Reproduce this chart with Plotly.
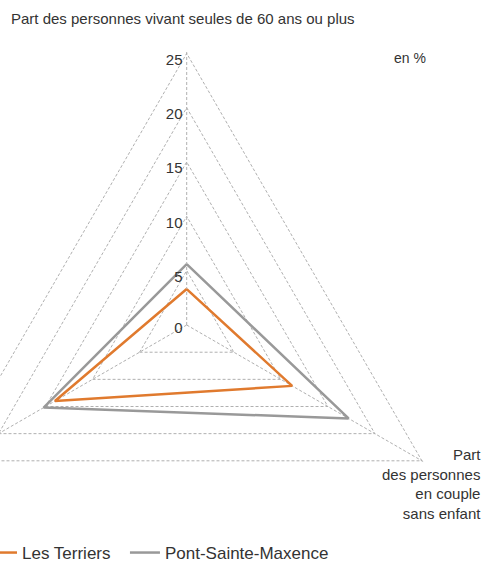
import plotly.graph_objects as go

categories = [
    "Part des personnes vivant seules de 60 ans ou plus",
    "Part des personnes en couple sans enfant",
    "Part des familles monoparentales",
]
les_terriers = [3.3, 11.2, 14.0]
pont_sainte_maxence = [5.6, 17.2, 15.2]
radial_ticks = [0, 5, 10, 15, 20, 25]

W, H = 600, 620
SHIFT = 90  # page offset of the figure (left side of chart is cropped in the reference)

ORANGE = "#E07A2E"
GREY = "#999999"
FONT = "Liberation Sans, Arial, sans-serif"
RMIN, RMAX = -0.01, 25.3
PX_PER_UNIT = 271.5 / 25
POLE_NUDGE = 0.3  # Plotly hides text sitting exactly on the pole; nudge the "0" label slightly


def closed(v):
    return list(v) + [v[0]]


fig = go.Figure()
fig.add_trace(go.Scatterpolar(
    r=closed(les_terriers), theta=closed(categories), mode="lines",
    name="Les Terriers\u00a0\u00a0", line=dict(color=ORANGE, width=2.5),
))
fig.add_trace(go.Scatterpolar(
    r=closed(pont_sainte_maxence), theta=closed(categories), mode="lines",
    name="Pont-Sainte-Maxence", line=dict(color=GREY, width=2.5),
))
# radial tick labels, placed along the top axis just below-left of each grid vertex
label_ticks = list(reversed(radial_ticks))
fig.add_trace(go.Scatterpolar(
    r=[max(t, POLE_NUDGE) for t in label_ticks], theta=[categories[0]] * len(label_ticks), mode="text",
    text=[str(t) + "\u00a0" for t in label_ticks], textposition="bottom left",
    textfont=dict(size=15, color="#333333"), showlegend=False, hoverinfo="skip",
    cliponaxis=False,
))

cx, cy = 186.7 + SHIFT, 325.0
R = PX_PER_UNIT * (RMAX - RMIN)
fig.update_layout(
    width=W, height=H,
    margin=dict(l=0, r=0, t=0, b=0),
    paper_bgcolor="white",
    font=dict(family=FONT, color="#333333"),
    polar=dict(
        bgcolor="white",
        gridshape="linear",
        domain=dict(x=[(cx - R) / W, (cx + R) / W], y=[1 - (cy + R) / H, 1 - (cy - R) / H]),
        radialaxis=dict(
            range=[RMIN, RMAX], tickvals=radial_ticks, angle=90, showline=False, ticks="",
            showticklabels=False,
            gridcolor="#B0B0B0", griddash="3px,2px", gridwidth=1,
        ),
        angularaxis=dict(
            rotation=90, direction="clockwise", showline=False, showticklabels=False,
            ticks="", gridcolor="#B0B0B0", griddash="3px,2px", gridwidth=1,
        ),
    ),
    showlegend=True,
    legend=dict(
        orientation="h", x=(SHIFT - 18) / W, y=1 - 553 / H, yanchor="middle", xanchor="left",
        font=dict(size=17, color="#333333"), bgcolor="rgba(0,0,0,0)",
    ),
    annotations=[
        dict(text=categories[0], xref="paper", yref="paper", x=(9 + SHIFT) / W, y=1 - 18 / H,
             xanchor="left", yanchor="middle", showarrow=False, font=dict(size=15, color="#333333")),
        dict(text="Part<br>des personnes<br>en couple<br>sans enfant", xref="paper", yref="paper",
             x=(483 + SHIFT) / W, y=1 - 444 / H, xanchor="right", yanchor="top", align="right",
             showarrow=False, font=dict(size=15, color="#333333")),
        dict(text="en %", xref="paper", yref="paper", x=(409.5 + SHIFT) / W, y=1 - 58 / H,
             xanchor="center", yanchor="middle", showarrow=False, font=dict(size=14, color="#333333")),
    ],
)

post = (
    "document.body.style.margin='0';document.body.style.overflow='hidden';"
    "var d=document.getElementById('{plot_id}');d.style.position='absolute';"
    "d.style.left='-" + str(SHIFT) + "px';d.style.top='0px';"
)
fig.write_html("out.html", post_script=post, config={"displayModeBar": False})
